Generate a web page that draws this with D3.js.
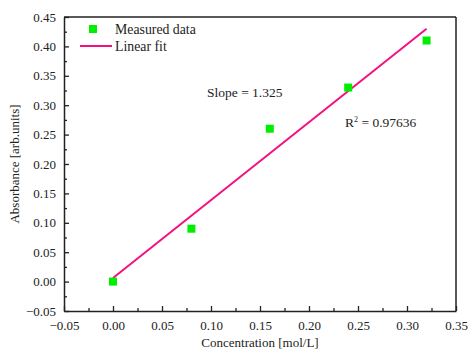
<!DOCTYPE html>
<html>
<head>
<meta charset="utf-8">
<script src="https://cdn.jsdelivr.net/npm/d3@7"></script>
<style>
  body { margin: 0; background: #fff; }
  text { font-family: "Liberation Serif", "Times New Roman", serif !important; fill: #222; }
</style>
</head>
<body>
<svg id="mysvg" width="471" height="354"></svg>
<script>
// measured points
var concentration = [0.00, 0.08, 0.16, 0.24, 0.32];
var absorbance = [0.00, 0.09, 0.26, 0.33, 0.41];
// fit line end points
var fitX = [0.00, 0.32];
var fitY = [0.006, 0.430];
var xTicks = [-0.05, 0, 0.05, 0.10, 0.15, 0.20, 0.25, 0.30, 0.35];
var yTicks = [-0.05, 0, 0.05, 0.10, 0.15, 0.20, 0.25, 0.30, 0.35, 0.40, 0.45];
var legendLabels = ["Measured data", "Linear fit"];

var margin = { top: 17, right: 15, bottom: 43, left: 64 },
  w = 471 - margin.left - margin.right,
  h = 354 - margin.top - margin.bottom;

var svg = d3.select("#mysvg");
var g = svg.append("g")
  .attr("transform", "translate(" + margin.left + "," + margin.top + ")");

var xScale = d3.scaleLinear().domain([-0.05, 0.35]).range([0, w]);
var yScale = d3.scaleLinear().domain([-0.05, 0.45]).range([h, 0]);

var green = "#00ee00";
var pink = "#f5107f";

// minor ticks (inward)
var xMinor = d3.range(-0.025, 0.35, 0.05);
var yMinor = d3.range(-0.025, 0.45, 0.05);

g.append("g")
  .attr("transform", "translate(0," + h + ")")
  .call(d3.axisBottom(xScale).tickValues(xTicks).tickFormat(d3.format(".2f")).tickSizeInner(-5).tickSizeOuter(0).tickPadding(10));
g.append("g")
  .attr("transform", "translate(0," + h + ")")
  .call(d3.axisBottom(xScale).tickValues(xMinor).tickFormat("").tickSizeInner(-3).tickSizeOuter(0))
  .select(".domain").remove();

g.append("g")
  .call(d3.axisLeft(yScale).tickValues(yTicks).tickFormat(d3.format(".2f")).tickSizeInner(-5).tickSizeOuter(0).tickPadding(8));
g.append("g")
  .call(d3.axisLeft(yScale).tickValues(yMinor).tickFormat("").tickSizeInner(-3).tickSizeOuter(0))
  .select(".domain").remove();

g.selectAll(".tick line").attr("stroke", "#222").attr("stroke-width", 1.3);
g.selectAll(".domain").attr("stroke", "#222").attr("stroke-width", 1.5);
g.selectAll(".tick text").style("font-size", "13px").attr("fill", "#222");

// frame top/right
g.append("line").attr("x1", 0).attr("x2", w).attr("y1", 0).attr("y2", 0)
  .attr("stroke", "#222").attr("stroke-width", 1.5);
g.append("line").attr("x1", w).attr("x2", w).attr("y1", 0).attr("y2", h)
  .attr("stroke", "#222").attr("stroke-width", 1.5);

// axis titles
svg.append("text")
  .attr("x", margin.left + w / 2)
  .attr("y", 347)
  .style("text-anchor", "middle")
  .style("font-size", "13px")
  .text("Concentration [mol/L]");
svg.append("text")
  .attr("transform", "rotate(-90)")
  .attr("x", -(margin.top + h / 2))
  .attr("y", 19)
  .style("text-anchor", "middle")
  .style("font-size", "13px")
  .text("Absorbance [arb.units]");

// fit line
var fitData = fitX.map(function (x, i) { return [x, fitY[i]]; });
g.append("path")
  .datum(fitData)
  .attr("fill", "none")
  .attr("stroke", pink)
  .attr("stroke-width", 2)
  .attr("d", d3.line().x(function (d) { return xScale(d[0]); }).y(function (d) { return yScale(d[1]); }));

// points
var pts = concentration.map(function (x, i) { return [x, absorbance[i]]; });
g.selectAll("rect.pt").data(pts).enter().append("rect")
  .attr("class", "pt")
  .attr("x", function (d) { return xScale(d[0]) - 4; })
  .attr("y", function (d) { return yScale(d[1]) - 4; })
  .attr("width", 8).attr("height", 8)
  .attr("fill", green);

// legend
var leg = svg.append("g");
leg.append("rect").attr("x", 89).attr("y", 25).attr("width", 8).attr("height", 8).attr("fill", green);
leg.append("text").attr("x", 115).attr("y", 33.5).style("font-size", "13.8px").text(legendLabels[0]);
leg.append("line").attr("x1", 80).attr("x2", 112).attr("y1", 46).attr("y2", 46)
  .attr("stroke", pink).attr("stroke-width", 2);
leg.append("text").attr("x", 115).attr("y", 50.5).style("font-size", "13.8px").text(legendLabels[1]);

// annotations
svg.append("text").attr("x", 207).attr("y", 97).style("font-size", "13.5px").text("Slope = 1.325");
var r2 = svg.append("text").attr("x", 345).attr("y", 127).style("font-size", "13.5px");
r2.append("tspan").text("R");
r2.append("tspan").attr("dy", -5).style("font-size", "8px").text("2");
r2.append("tspan").attr("dy", 5).text(" = 0.97636");
</script>
</body>
</html>
